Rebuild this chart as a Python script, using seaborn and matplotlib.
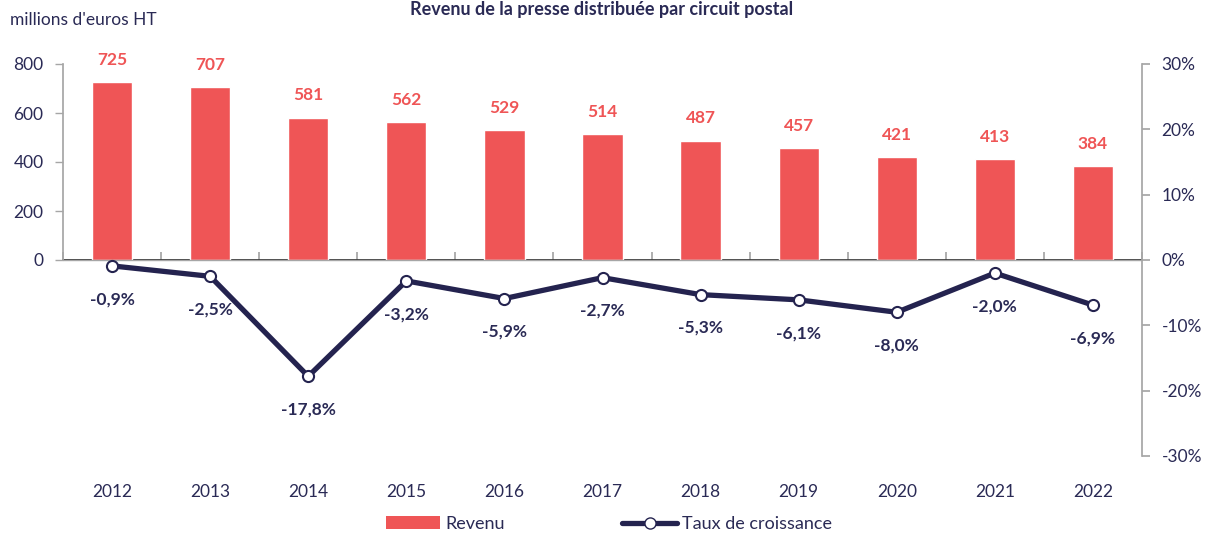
import numpy as np
import pandas as pd
import matplotlib
matplotlib.use("Agg")
import matplotlib.pyplot as plt
import seaborn as sns
from matplotlib.patches import Patch
from matplotlib.lines import Line2D

years = ["2012", "2013", "2014", "2015", "2016", "2017", "2018", "2019", "2020", "2021", "2022"]
revenue = [725, 707, 581, 562, 529, 514, 487, 457, 421, 413, 384]
growth = [-0.9, -2.5, -17.8, -3.2, -5.9, -2.7, -5.3, -6.1, -8.0, -2.0, -6.9]
left_ticks = [0, 200, 400, 600, 800]
right_ticks = [-30, -20, -10, 0, 10, 20, 30]

RED = "#EF5556"
NAVY = "#24234F"
TXT = "#2A2A55"
GRAY = "#A6A6A6"

sns.set_theme(style="white")
plt.rcParams["font.family"] = ["Lato", "DejaVu Sans"]

df = pd.DataFrame({"year": years, "revenue": revenue, "growth": growth})

fig = plt.figure(figsize=(12.14, 5.34), dpi=100)
ax = fig.add_axes([63 / 1214, 1 - 456 / 534, (1142 - 63) / 1214, (456 - 64) / 534])

sns.barplot(data=df, x="year", y="revenue", color=RED, width=0.41, ax=ax, saturation=1)
ax.set_ylim(-800, 800)
ax.set_xlim(-0.5, len(years) - 0.5)
ax.set_yticks(left_ticks)
ax.set_yticklabels([str(t) for t in left_ticks])
ax.set_xlabel("")
ax.set_ylabel("")
for s in ["top", "right", "bottom"]:
    ax.spines[s].set_visible(False)
ax.spines["left"].set_bounds(0, 800)
ax.spines["left"].set_color(GRAY)
ax.tick_params(axis="y", direction="out", length=6, width=1, color=GRAY, colors=TXT, labelsize=12.5, pad=8, left=True)
ax.tick_params(axis="x", length=0, labelsize=12.5, colors=TXT, pad=20)
ax.axhline(0, color=GRAY, lw=1, zorder=1)

# category boundary ticks along the zero line
sec = ax.secondary_xaxis(0.5)
sec.set_xticks(np.arange(-0.5, len(years), 1.0))
sec.set_xticklabels([])
sec.tick_params(axis="x", direction="out", length=6, color=GRAY)
sec.spines["bottom"].set_color(GRAY)

for i, v in enumerate(revenue):
    ax.annotate(f"{v}", (i, v), xytext=(0, 16), textcoords="offset points",
                ha="center", va="center", color=RED, fontsize=12.5, fontweight="bold")

ax2 = ax.twinx()
sns.pointplot(data=df, x="year", y="growth", color=NAVY, ax=ax2, markers="o",
              linewidth=3.8, markersize=8, markerfacecolor="white",
              markeredgecolor=NAVY, markeredgewidth=1.5, errorbar=None)
ax2.set_ylim(-30, 30)
ax2.set_xlim(-0.5, len(years) - 0.5)
ax2.set_yticks(right_ticks)
ax2.set_yticklabels([f"{t}%" for t in right_ticks])
ax2.set_ylabel("")
ax2.set_xlabel("")
for s in ["top", "left", "bottom"]:
    ax2.spines[s].set_visible(False)
ax2.spines["right"].set_color(GRAY)
ax2.tick_params(axis="y", direction="out", length=6, color=GRAY, colors=TXT, labelsize=12.5, pad=8, right=True)
ax2.tick_params(axis="x", length=0)
for i, v in enumerate(growth):
    ax2.annotate(f"{v:.1f}%".replace(".", ","), (i, v), xytext=(0, -24), textcoords="offset points",
                 ha="center", va="center", color=TXT, fontsize=12.5, fontweight="bold")

fig.text(602 / 1214, 1 - 1 / 534, "Revenu de la presse distribuée par circuit postal",
         ha="center", va="top", fontsize=13, fontweight="bold", color=TXT)
fig.text(10 / 1214, 1 - 20 / 534, "millions d'euros HT", ha="left", va="center", fontsize=12.5, color=TXT)

handles = [Patch(facecolor=RED, edgecolor="none"),
           Line2D([0], [0], color=NAVY, lw=3.8, marker="o", markersize=8,
                  markerfacecolor="white", markeredgecolor=NAVY)]
fig.legend(handles, ["Revenu", "Taux de croissance"], loc="center", bbox_to_anchor=(609 / 1214, 1 - 524 / 534),
           ncol=2, frameon=False, fontsize=13, handlelength=3.0, columnspacing=6.5, handletextpad=0.3,
           labelcolor=TXT)

fig.savefig("out.png", dpi=100)
